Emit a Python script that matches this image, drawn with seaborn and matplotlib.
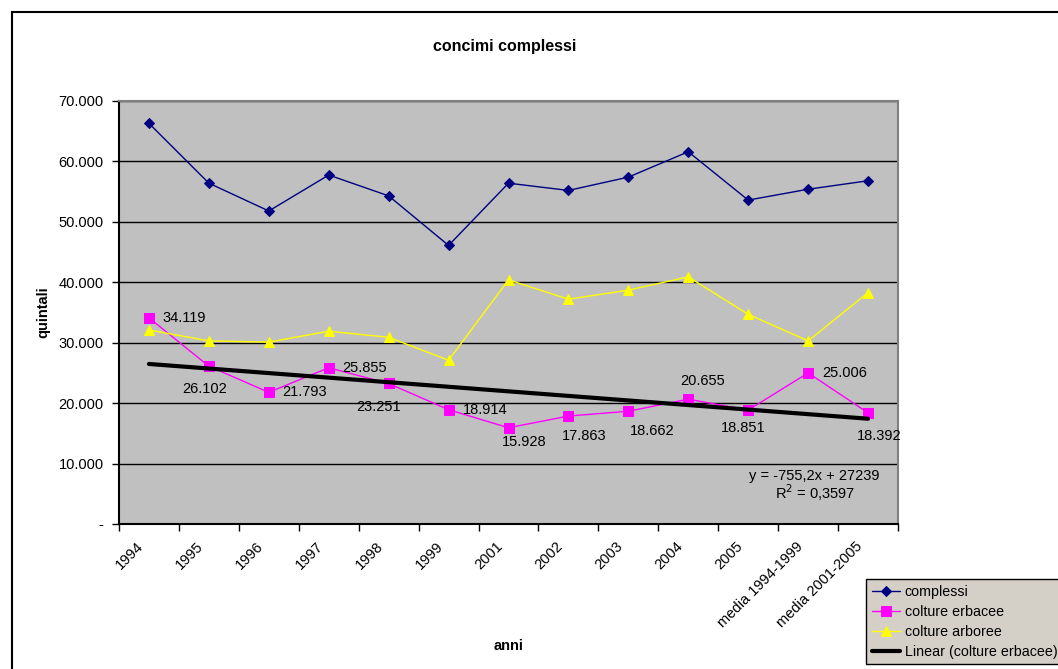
import numpy as np
import pandas as pd
import matplotlib.pyplot as plt
import matplotlib.ticker as mticker
from matplotlib.patches import Rectangle
from matplotlib.transforms import ScaledTranslation
import seaborn as sns

# Data
anni = ['1994', '1995', '1996', '1997', '1998', '1999', '2001', '2002', '2003',
        '2004', '2005', 'media 1994-1999', 'media 2001-2005']
complessi = [66300, 56400, 51800, 57750, 54300, 46100, 56400, 55200, 57400,
             61600, 53600, 55400, 56800]
erbacee = [34119, 26102, 21793, 25855, 23251, 18914, 15928, 17863, 18662,
           20655, 18851, 25006, 18392]
arboree = [32100, 30300, 30100, 31900, 30900, 27100, 40400, 37200, 38700,
           40900, 34700, 30300, 38300]

# label offsets (points) for the erbacee values
label_offsets = [(10, 0), (-3, -16.5), (10, 0), (10, 0), (-7, -17), (10, 0),
                 (11, -10), (11, -14), (17, -14), (10, 13), (-3.5, -13),
                 (10, 0), (8, -16.5)]
label_ha = ['left', 'center', 'left', 'left', 'center', 'left', 'center',
            'center', 'center', 'center', 'center', 'left', 'center']

df = pd.DataFrame({'pos': np.arange(len(anni)), 'anno': anni,
                   'complessi': complessi, 'colture erbacee': erbacee,
                   'colture arboree': arboree})

sns.set_style('white')
plt.rcParams['font.family'] = ['Liberation Sans', 'DejaVu Sans']
plt.rcParams['text.color'] = 'black'
plt.rcParams['xtick.color'] = 'black'
plt.rcParams['ytick.color'] = 'black'
plt.rcParams['axes.labelcolor'] = 'black'

fig = plt.figure(figsize=(10.58, 6.69), dpi=100)
ax = fig.add_axes([119 / 1058, 1 - 524 / 669, 779 / 1058, 423 / 669])
ax.set_facecolor('#c0c0c0')

sns.lineplot(data=df, x='pos', y='complessi', ax=ax, color='#000080',
             marker='D', markersize=5, markeredgecolor='#000080', lw=1,
             label='complessi', sort=False)
sns.lineplot(data=df, x='pos', y='colture erbacee', ax=ax, color='#ff00ff',
             marker='s', markersize=7, markeredgecolor='#ff00ff', lw=1,
             label='colture erbacee', sort=False)
sns.lineplot(data=df, x='pos', y='colture arboree', ax=ax, color='#ffff00',
             marker='^', markersize=7, markeredgecolor='#ffff00', lw=1,
             label='colture arboree', sort=False)
sns.regplot(data=df, x='pos', y='colture erbacee', ax=ax, scatter=False,
            ci=None, truncate=True, color='black',
            label='Linear (colture erbacee)', line_kws={'lw': 3})

for i, v in enumerate(erbacee):
    ax.annotate(f'{v / 1000:.3f}', (i, v), xytext=label_offsets[i],
                textcoords='offset points', ha=label_ha[i], va='center',
                fontsize=10.5, color='black')

ax.text(0.893, 0.113, 'y = -755,2x + 27239', transform=ax.transAxes,
        ha='center', va='center', fontsize=10.5)
ax.text(0.893, 0.073, 'R$^2$ = 0,3597', transform=ax.transAxes,
        ha='center', va='center', fontsize=10.5)

ax.set_xlim(-0.5, len(anni) - 0.5)
ax.set_ylim(0, 70000)
ax.yaxis.set_major_locator(mticker.MultipleLocator(10000))
ax.yaxis.set_major_formatter(mticker.FuncFormatter(
    lambda v, p: '-' if v == 0 else f'{v / 1000:.3f}'))
ax.grid(axis='y', color='black', lw=1)
ax.set_axisbelow(True)

ax.set_xticks(np.arange(len(anni)))
ax.set_xticklabels(anni, rotation=45, ha='right', rotation_mode='anchor')
ax.set_xticks(np.arange(len(anni) + 1) - 0.5, minor=True)
ax.tick_params(axis='x', which='major', length=0, labelsize=10.5, pad=11)
ax.tick_params(axis='x', which='minor', length=5, width=1, color='black',
               direction='out', bottom=True)
ax.tick_params(axis='y', length=5, width=1, color='black', direction='out',
               left=True, labelsize=10.5, pad=6)
for lab in ax.get_xticklabels():
    lab.set_transform(lab.get_transform()
                      + ScaledTranslation(-9 / 72, 0, fig.dpi_scale_trans))

for s in ['left', 'bottom']:
    ax.spines[s].set_color('black')
    ax.spines[s].set_linewidth(1.5)
for s in ['top', 'right']:
    ax.spines[s].set_color('#808080')
    ax.spines[s].set_linewidth(1.5)

ax.set_xlabel('anni', fontsize=10.5, fontweight='bold', labelpad=0)
ax.xaxis.set_label_coords(0.5, -0.272)
ax.set_ylabel('quintali', fontsize=10.5, fontweight='bold')
ax.yaxis.set_label_coords(-0.088, 0.5)
fig.text(505 / 1058, 1 - 47 / 669, 'concimi complessi', ha='center',
         va='center', fontsize=11.5, fontweight='bold')

leg = ax.legend(loc='upper left', bbox_to_anchor=(866 / 1058, 1 - 579 / 669),
                bbox_transform=fig.transFigure, frameon=True, fancybox=False,
                facecolor='#d4d0c8', edgecolor='black', framealpha=1,
                fontsize=10.3, handlelength=2.0, handletextpad=0.3,
                labelspacing=0.42, borderpad=0.4, borderaxespad=0)
leg.get_frame().set_linewidth(1)

fig.patches.append(Rectangle((12 / 1058, -0.1), 1.2, 1 - 12 / 669 + 0.1,
                             transform=fig.transFigure, fill=False,
                             edgecolor='black', lw=1.5))

fig.savefig('out.png', dpi=100)
